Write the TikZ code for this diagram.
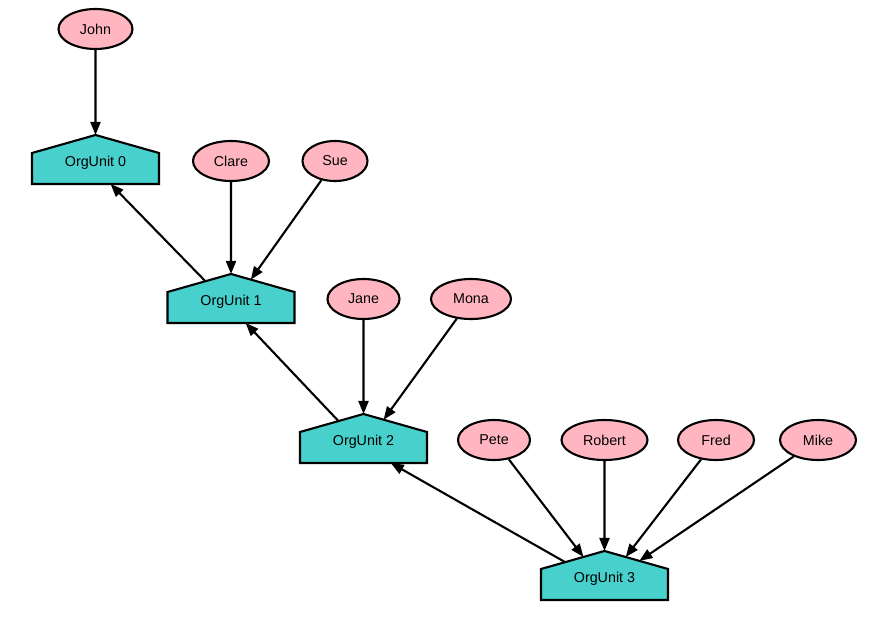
\documentclass[tikz,border=0pt]{standalone}
\usepackage{fontspec}
\setmainfont{Liberation Sans}
\usetikzlibrary{shapes.geometric,shapes.symbols,arrows.meta}
\definecolor{personfill}{RGB}{255,182,193}
\definecolor{unitfill}{RGB}{72,209,204}
\newcommand{\unittext}[1]{\makebox[127pt]{\rule[-15.5pt]{0pt}{31pt}\smash{\raisebox{2.5pt}{#1}}}}
\begin{document}
\begin{tikzpicture}[x=1pt,y=-1pt,
  person/.style={ellipse,draw=black,line width=2.1pt,fill=personfill,inner sep=0pt,minimum height=40pt,minimum width=74pt,font=\fontsize{14.3}{17}\selectfont},
  unit/.style={signal,signal to=north,signal from=nowhere,signal pointer angle=148.3,draw=black,line width=2.1pt,fill=unitfill,inner sep=0pt,outer sep=0pt,font=\fontsize{14.3}{17}\selectfont},
  link/.style={line width=2.1pt,-{Triangle[length=13pt,width=10pt]}}]
\useasboundingbox (0,0) rectangle (870,616);
\node[person] (john) at (95.5,29) {John};
\node[unit] (ou0) at (95.5,168.5) {\unittext{OrgUnit 0}};
\node[person,minimum width=76pt] (clare) at (231,161) {Clare};
\node[person,minimum width=65pt] (sue) at (335,161) {Sue};
\node[unit] (ou1) at (231,307.5) {\unittext{OrgUnit 1}};
\node[person,minimum width=72pt] (jane) at (363.5,299) {Jane};
\node[person,minimum width=80pt] (mona) at (471,299) {Mona};
\node[unit] (ou2) at (363.5,447.5) {\unittext{OrgUnit 2}};
\node[person,minimum width=72pt] (pete) at (494,440) {Pete};
\node[person,minimum width=86pt] (robert) at (604.5,440) {Robert};
\node[person,minimum width=76pt] (fred) at (716,440) {Fred};
\node[person,minimum width=76pt] (mike) at (818,440) {Mike};
\node[unit] (ou3) at (604.5,584.5) {\unittext{OrgUnit 3}};
\draw[link] (john) -- (ou0);
\draw[link] (clare) -- (ou1);
\draw[link] (sue) -- (ou1);
\draw[link] (ou1) -- (ou0);
\draw[link] (jane) -- (ou2);
\draw[link] (mona) -- (ou2);
\draw[link] (ou2) -- (ou1);
\draw[link] (pete) -- (ou3);
\draw[link] (robert) -- (ou3);
\draw[link] (fred) -- (ou3);
\draw[link] (mike) -- (ou3);
\draw[link] (ou3) -- (ou2);
\end{tikzpicture}
\end{document}
